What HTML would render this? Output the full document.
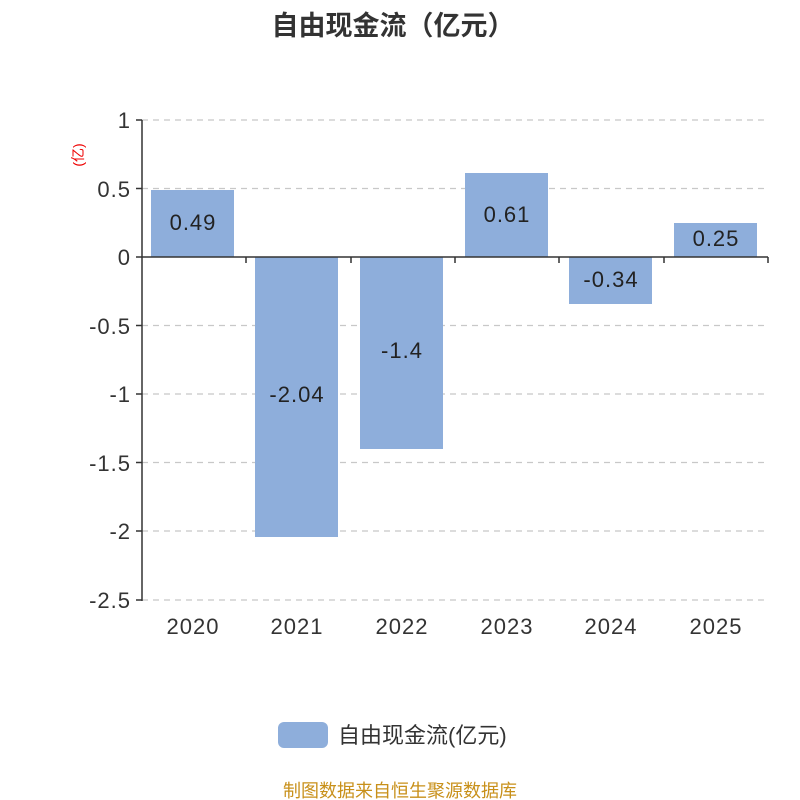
<!DOCTYPE html>
<html><head><meta charset="utf-8"><style>
html,body{margin:0;padding:0;background:#fff;}
svg{display:block;font-family:"Liberation Sans","Noto Sans CJK SC",sans-serif;}
</style></head><body>
<svg width="800" height="800" viewBox="0 0 800 800">
<text x="393" y="35" text-anchor="middle" font-size="27" font-weight="bold" fill="#333">自由现金流（亿元）</text>
<g stroke="#c8c8c8" stroke-dasharray="6,5" stroke-width="1.2">
<line x1="142" y1="120" x2="768" y2="120"/>
<line x1="142" y1="188.5" x2="768" y2="188.5"/>
<line x1="142" y1="325.5" x2="768" y2="325.5"/>
<line x1="142" y1="394" x2="768" y2="394"/>
<line x1="142" y1="462.5" x2="768" y2="462.5"/>
<line x1="142" y1="531" x2="768" y2="531"/>
<line x1="142" y1="600" x2="768" y2="600"/>
</g>
<g fill="#8eaedb">
<rect x="151" y="190" width="83" height="67"/>
<rect x="255" y="257" width="83" height="280"/>
<rect x="360" y="257" width="83" height="192"/>
<rect x="465" y="173" width="83" height="84"/>
<rect x="569" y="257" width="83" height="47"/>
<rect x="674" y="223" width="83" height="34"/>
</g>
<g stroke="#333" stroke-width="1.5">
<line x1="142" y1="120" x2="142" y2="601"/>
<line x1="142" y1="257" x2="768" y2="257"/>
<line x1="136" y1="120" x2="142" y2="120"/>
<line x1="136" y1="188.5" x2="142" y2="188.5"/>
<line x1="136" y1="257" x2="142" y2="257"/>
<line x1="136" y1="325.5" x2="142" y2="325.5"/>
<line x1="136" y1="394" x2="142" y2="394"/>
<line x1="136" y1="462.5" x2="142" y2="462.5"/>
<line x1="136" y1="531" x2="142" y2="531"/>
<line x1="136" y1="600" x2="142" y2="600"/>
<line x1="246" y1="257" x2="246" y2="263"/>
<line x1="351" y1="257" x2="351" y2="263"/>
<line x1="455" y1="257" x2="455" y2="263"/>
<line x1="559" y1="257" x2="559" y2="263"/>
<line x1="664" y1="257" x2="664" y2="263"/>
<line x1="768" y1="257" x2="768" y2="263"/>
</g>
<g font-size="22" fill="#333" text-anchor="end" letter-spacing="1">
<text x="131" y="128">1</text>
<text x="131" y="197">0.5</text>
<text x="131" y="265">0</text>
<text x="131" y="334">-0.5</text>
<text x="131" y="402">-1</text>
<text x="131" y="471">-1.5</text>
<text x="131" y="539">-2</text>
<text x="131" y="608">-2.5</text>
</g>
<text x="0" y="0" font-size="14" fill="#e00" text-anchor="middle" transform="translate(83,155) rotate(-90)">(亿)</text>
<g font-size="22" fill="#333" text-anchor="middle" letter-spacing="1">
<text x="193" y="634">2020</text>
<text x="297" y="634">2021</text>
<text x="402" y="634">2022</text>
<text x="507" y="634">2023</text>
<text x="611" y="634">2024</text>
<text x="716" y="634">2025</text>
</g>
<g font-size="22" fill="#222" text-anchor="middle" letter-spacing="1">
<text x="193" y="230">0.49</text>
<text x="297" y="402">-2.04</text>
<text x="402" y="358">-1.4</text>
<text x="507" y="222">0.61</text>
<text x="611" y="287">-0.34</text>
<text x="716" y="246">0.25</text>
</g>
<rect x="278" y="722" width="50" height="26" rx="6" fill="#8eaedb"/>
<text x="338" y="743" font-size="22" fill="#333">自由现金流(亿元)</text>
<text x="400" y="797" font-size="18" fill="#c8901a" text-anchor="middle">制图数据来自恒生聚源数据库</text>
</svg>
</body></html>
